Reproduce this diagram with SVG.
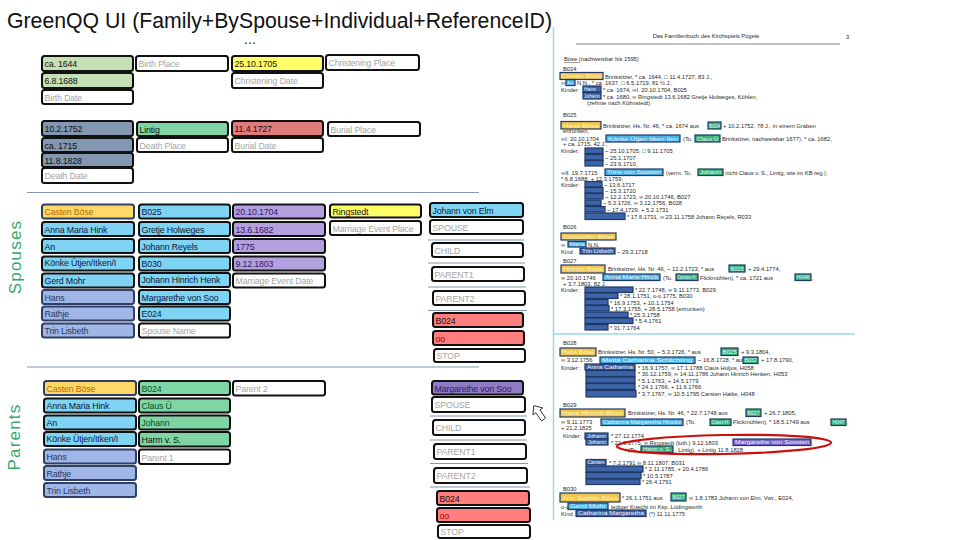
<svg xmlns="http://www.w3.org/2000/svg" width="960" height="540" viewBox="0 0 960 540">
<style>
.t{font-family:"Liberation Sans",Arial,sans-serif;font-size:8.8px;fill:#111;letter-spacing:-0.15px}
.ph{fill:#a6a6a6}
.bx{stroke:#111;stroke-width:2;rx:2.5px}
.bl{stroke:#2f3f6a;stroke-width:2;rx:2.5px}
.w{fill:#fff}.g1{fill:#c5e0b4}.y{fill:#ffff66}.dg{fill:#8497b0}.mg{fill:#7fd6a4}.rd{fill:#e07b7b}
.lb{fill:#7fd3f3}.or{fill:#ffd966}.lv{fill:#9fb6e6}.pu{fill:#b4a0dc}.pu2{fill:#8e7cc3}.sa{fill:#ff7f7f}
.tor{fill:#b5690a}.tnv{fill:#0d1a40}.tlv{fill:#1f3864}.tpu{fill:#33176e}.tgr{fill:#0b4f28}.tred{fill:#b00000}
.sep{stroke:#8496b0;stroke-width:1}
.lab{font-family:"Liberation Sans",Arial,sans-serif;font-size:17px;fill:#35a86a;letter-spacing:1.2px}
.d{font-family:"Liberation Sans",Arial,sans-serif;font-size:5.8px;fill:#2a2a2a}
.hl{stroke:#1f3864;stroke-width:1.2}
.hy{fill:#f0c850}.hb{fill:#49b3e3}.hd{fill:#3d64a8}.hg{fill:#36b57a}.hp{fill:#7b67c6}
.ht{font-family:"Liberation Sans",Arial,sans-serif;font-size:5px;fill:#e8f0ff}
.hty{font-family:"Liberation Sans",Arial,sans-serif;font-size:5px;fill:#fff1c0}
.cy{stroke:#9dd8df;stroke-width:1.5}
</style>

<text x="7" y="28" font-family="Liberation Sans, Arial, sans-serif" font-size="22" fill="#111" textLength="545" lengthAdjust="spacingAndGlyphs">GreenQQ UI (Family+BySpouse+Individual+ReferenceID)</text>
<text x="250" y="44" font-family="Liberation Sans, Arial, sans-serif" font-size="13" fill="#111" text-anchor="middle">…</text>

<!-- Top section: individual events -->
<g id="n-birth1"><rect class="bx g1" x="42" y="56" width="91" height="15"/><text class="t" x="44.5" y="67">ca. 1644</text></g>
<g id="n-birthplace"><rect class="bx w" x="136" y="56" width="92" height="15"/><text class="t ph" x="138.5" y="67">Birth Place</text></g>
<g id="n-christening"><rect class="bx y" x="232" y="56" width="91" height="15"/><text class="t" x="234.5" y="67">25.10.1705</text></g>
<g id="n-chrplace"><rect class="bx w" x="326" y="55" width="93" height="15"/><text class="t ph" x="328.5" y="66">Christening Place</text></g>
<g id="n-birth2"><rect class="bx g1" x="42" y="73" width="91" height="15"/><text class="t" x="44.5" y="84">6.8.1688</text></g>
<g id="n-chrdate"><rect class="bx w" x="232" y="73" width="91" height="15"/><text class="t ph" x="234.5" y="84">Christening Date</text></g>
<g id="n-birthdate"><rect class="bx w" x="42" y="90" width="91" height="14"/><text class="t ph" x="44.5" y="100.5">Birth Date</text></g>
<g id="n-death1"><rect class="bx dg" x="42" y="121" width="91" height="15"/><text class="t" x="44.5" y="132">10.2.1752</text></g>
<g id="n-lintig"><rect class="bx mg" x="137" y="122" width="91" height="14"/><text class="t" x="139.5" y="132.5">Lintig</text></g>
<g id="n-burial"><rect class="bx rd" x="232" y="121" width="91" height="15"/><text class="t" x="234.5" y="132">11.4.1727</text></g>
<g id="n-burplace"><rect class="bx w" x="328" y="122" width="92" height="14"/><text class="t ph" x="330.5" y="132.5">Burial Place</text></g>
<g id="n-death2"><rect class="bx dg" x="42" y="138" width="91" height="14"/><text class="t" x="44.5" y="148.5">ca. 1715</text></g>
<g id="n-deathplace"><rect class="bx w" x="137" y="138" width="91" height="14"/><text class="t ph" x="139.5" y="148.5">Death Place</text></g>
<g id="n-burdate"><rect class="bx w" x="232" y="138" width="91" height="14"/><text class="t ph" x="234.5" y="148.5">Burial Date</text></g>
<g id="n-death3"><rect class="bx dg" x="42" y="153" width="91" height="14"/><text class="t" x="44.5" y="163.5">11.8.1828</text></g>
<g id="n-deathdate"><rect class="bx w" x="42" y="168" width="91" height="15"/><text class="t ph" x="44.5" y="179">Death Date</text></g>

<line class="sep" x1="27" y1="192.5" x2="479" y2="192.5"/>
<text class="lab" transform="translate(21,257) rotate(-90)" text-anchor="middle">Spouses</text>

<!-- Spouses section -->
<g id="s-c1r1"><rect class="bl or" x="42" y="204.5" width="92" height="14"/><text class="t tor" x="44.5" y="215">Casten Böse</text></g>
<g id="s-c1r2"><rect class="bx lb" x="42" y="222" width="92" height="14"/><text class="t tnv" x="44.5" y="232.5">Anna Maria Hink</text></g>
<g id="s-c1r3"><rect class="bx lb" x="42" y="239" width="92" height="14"/><text class="t tnv" x="44.5" y="249.5">An</text></g>
<g id="s-c1r4"><rect class="bx lb" x="42" y="256.5" width="92" height="14"/><text class="t tnv" x="44.5" y="266">Könke Ütjen/Itken/I</text></g>
<g id="s-c1r5"><rect class="bx lb" x="42" y="273.5" width="92" height="14"/><text class="t tnv" x="44.5" y="284">Gerd Mohr</text></g>
<g id="s-c1r6"><rect class="bl lv" x="42" y="290" width="92" height="14"/><text class="t tlv" x="44.5" y="300.5">Hans</text></g>
<g id="s-c1r7"><rect class="bl lv" x="42" y="306.5" width="92" height="14"/><text class="t tlv" x="44.5" y="317">Rathje</text></g>
<g id="s-c1r8"><rect class="bl lv" x="42" y="323.5" width="92" height="14"/><text class="t tlv" x="44.5" y="334">Trin Lisbeth</text></g>

<g id="s-c2r1"><rect class="bx lb" x="139" y="204.5" width="91" height="14"/><text class="t tnv" x="141.5" y="215">B025</text></g>
<g id="s-c2r2"><rect class="bx lb" x="139" y="222" width="91" height="14"/><text class="t tnv" x="141.5" y="232.5">Gretje Holweges</text></g>
<g id="s-c2r3"><rect class="bx lb" x="139" y="239" width="91" height="14"/><text class="t tnv" x="141.5" y="249.5">Johann Reyels</text></g>
<g id="s-c2r4"><rect class="bx lb" x="139" y="256.5" width="91" height="14"/><text class="t tnv" x="141.5" y="267">B030</text></g>
<g id="s-c2r5"><rect class="bx lb" x="139" y="273" width="91" height="14"/><text class="t tnv" x="141.5" y="283">Johann Hinrich Henk</text></g>
<g id="s-c2r6"><rect class="bx lb" x="139" y="290" width="91" height="14"/><text class="t tnv" x="141.5" y="300.5">Margarethe von Soo</text></g>
<g id="s-c2r7"><rect class="bx lb" x="139" y="306.5" width="91" height="14"/><text class="t tnv" x="141.5" y="317">E024</text></g>
<g id="s-c2r8"><rect class="bx w" x="139" y="323.5" width="91" height="14"/><text class="t ph" x="141.5" y="334">Spouse Name</text></g>

<g id="s-c3r1"><rect class="bx pu" x="233" y="204.5" width="92" height="14"/><text class="t tpu" x="235.5" y="215">20.10.1704</text></g>
<g id="s-c3r2"><rect class="bx pu" x="233" y="222" width="92" height="14"/><text class="t tpu" x="235.5" y="232.5">13.6.1682</text></g>
<g id="s-c3r3"><rect class="bx pu" x="233" y="239" width="92" height="14"/><text class="t tpu" x="235.5" y="249.5">1775</text></g>
<g id="s-c3r4"><rect class="bx pu" x="233" y="256.5" width="92" height="14"/><text class="t tpu" x="235.5" y="267">9.12.1803</text></g>
<g id="s-c3r5"><rect class="bx w" x="233" y="273.5" width="92" height="14"/><text class="t ph" x="235.5" y="284">Marriage Event Date</text></g>

<g id="s-c4r1"><rect class="bx y" x="330" y="204.5" width="91" height="13"/><text class="t" x="332.5" y="214.5">Ringstedt</text></g>
<g id="s-c4r2"><rect class="bx w" x="330" y="221" width="91" height="14"/><text class="t ph" x="332.5" y="231.5">Marriage Event Place</text></g>

<g id="s-c5r1"><rect class="bx lb" x="430" y="203" width="93" height="14"/><text class="t tnv" x="432.5" y="213.5">Johann von Elm</text></g>
<g id="s-spouse"><rect class="bx w" x="430" y="220" width="93" height="14"/><text class="t ph" x="432.5" y="230.5">SPOUSE</text></g>
<g id="s-child"><rect class="bx w" x="432" y="243" width="91" height="14"/><text class="t ph" x="434.5" y="253.5">CHILD</text></g>
<g id="s-parent1"><rect class="bx w" x="432" y="267" width="92" height="14"/><text class="t ph" x="434.5" y="277.5">PARENT1</text></g>
<g id="s-parent2"><rect class="bx w" x="433" y="291" width="92" height="14"/><text class="t ph" x="435.5" y="301.5">PARENT2</text></g>
<g id="s-ref"><rect class="bx sa" x="433" y="313" width="90" height="14"/><text class="t" x="435.5" y="323.5">B024</text></g>
<g id="s-oo"><rect class="bx sa" x="433" y="331" width="91" height="14"/><text class="t tred" x="435.5" y="341.5">oo</text></g>
<g id="s-stop"><rect class="bx w" x="434" y="349" width="91" height="13"/><text class="t ph" x="436.5" y="359">STOP</text></g>

<line class="sep" x1="27" y1="367" x2="479" y2="367"/>
<text class="lab" transform="translate(20,437) rotate(-90)" text-anchor="middle">Parents</text>

<!-- Parents section -->
<g id="p-c1r1"><rect class="bl or" x="44" y="381" width="92" height="14"/><text class="t tor" x="46.5" y="391.5">Casten Böse</text></g>
<g id="p-c1r2"><rect class="bx lb" x="44" y="398.5" width="92" height="14"/><text class="t tnv" x="46.5" y="409">Anna Maria Hink</text></g>
<g id="p-c1r3"><rect class="bx lb" x="44" y="415.5" width="92" height="14"/><text class="t tnv" x="46.5" y="426">An</text></g>
<g id="p-c1r4"><rect class="bx lb" x="44" y="432" width="92" height="14"/><text class="t tnv" x="46.5" y="442">Könke Ütjen/Itken/I</text></g>
<g id="p-c1r5"><rect class="bl lv" x="44" y="449.5" width="92" height="14"/><text class="t tlv" x="46.5" y="460">Hans</text></g>
<g id="p-c1r6"><rect class="bl lv" x="44" y="466" width="92" height="14"/><text class="t tlv" x="46.5" y="476.5">Rathje</text></g>
<g id="p-c1r7"><rect class="bl lv" x="44" y="483" width="92" height="14"/><text class="t tlv" x="46.5" y="493.5">Trin Lisbeth</text></g>

<g id="p-c2r1"><rect class="bx mg" x="139" y="381" width="91" height="14"/><text class="t tgr" x="141.5" y="391.5">B024</text></g>
<g id="p-c2r2"><rect class="bx mg" x="139" y="398.5" width="91" height="14"/><text class="t tgr" x="141.5" y="409">Claus Ü</text></g>
<g id="p-c2r3"><rect class="bx mg" x="139" y="415.5" width="91" height="14"/><text class="t tgr" x="141.5" y="426">Johann</text></g>
<g id="p-c2r4"><rect class="bx mg" x="139" y="432" width="91" height="14.5"/><text class="t" x="141.5" y="443">Harm v. S.</text></g>
<g id="p-c2r5"><rect class="bx w" x="139" y="449.5" width="91" height="14.5"/><text class="t ph" x="141.5" y="460.5">Parent 1</text></g>
<g id="p-c3r1"><rect class="bx w" x="233" y="381" width="92" height="14.5"/><text class="t ph" x="235.5" y="392">Parent 2</text></g>

<g id="p-c5r1"><rect class="bx pu2" x="432" y="381" width="91" height="13.5"/><text class="t tpu" x="434.5" y="391.5">Margarethe von Soo</text></g>
<g id="p-spouse"><rect class="bx w" x="432" y="397" width="93" height="15"/><text class="t ph" x="434.5" y="408">SPOUSE</text></g>
<g id="p-child"><rect class="bx w" x="433" y="420" width="92" height="15"/><text class="t ph" x="435.5" y="431">CHILD</text></g>
<g id="p-parent1"><rect class="bx w" x="434" y="444" width="92" height="15"/><text class="t ph" x="436.5" y="455">PARENT1</text></g>
<g id="p-parent2"><rect class="bx w" x="434" y="468" width="93" height="15"/><text class="t ph" x="436.5" y="479">PARENT2</text></g>
<g id="p-ref"><rect class="bx sa" x="437" y="491" width="92" height="14"/><text class="t" x="439.5" y="501.5">B024</text></g>
<g id="p-oo"><rect class="bx sa" x="437" y="508" width="93" height="14"/><text class="t tred" x="439.5" y="518.5">oo</text></g>
<g id="p-stop"><rect class="bx w" x="438" y="525" width="92" height="13"/><text class="t ph" x="440.5" y="535">STOP</text></g>

<!-- separators (connectors group) -->
<g id="connectors">
<line class="sep" x1="428" y1="240" x2="524" y2="240"/>
<line class="sep" x1="428" y1="263" x2="525" y2="263"/>
<line class="sep" x1="428" y1="287" x2="526" y2="287"/>
<line class="sep" x1="428" y1="310.5" x2="527" y2="310.5"/>
<line class="sep" x1="430" y1="416" x2="527" y2="416"/>
<line class="sep" x1="430" y1="440" x2="527" y2="440"/>
<line class="sep" x1="430" y1="463.5" x2="528" y2="463.5"/>
<line class="sep" x1="430" y1="487" x2="530" y2="487"/>
</g>

<!-- cursor -->
<g id="cursor" transform="translate(539,413) rotate(-35)">
<polygon points="0,-9 6,-2 2.5,-2 2.5,8 -2.5,8 -2.5,-2 -6,-2" fill="#fff" stroke="#333" stroke-width="0.9"/>
</g>

<!-- scanned document -->
<g id="scan">
<rect x="554" y="27" width="302" height="494" fill="#fff"/>
<line class="cy" x1="553.5" y1="27" x2="553.5" y2="520"/>
<line class="cy" x1="553" y1="334" x2="855" y2="334"/>
<text class="d" x="706" y="38" text-anchor="middle" font-size="4.8" fill="#555">Das Familienbuch des Kirchspiels Pögele</text>
<text class="d" x="846" y="39">3</text>
<line x1="576" y1="44" x2="840" y2="44" stroke="#666" stroke-width="0.8"/>
<text class="d" x="564" y="61" font-size="7">Böse  (nachweisbar bis 1595)</text>
<line x1="564" y1="62.5" x2="580" y2="62.5" stroke="#444" stroke-width="0.5"/>

<text class="d" x="563" y="71">B024</text>
<rect class="hl hy" x="560" y="72.5" width="43" height="7"/><text class="hty" x="561" y="78.2" textLength="41" lengthAdjust="spacingAndGlyphs">Casten Böse</text>
<text class="d" x="605" y="78.5">Brinksitzer, * ca. 1644, □ 11.4.1727, 83 J.,</text>
<text class="d" x="561" y="85">∞</text>
<rect class="hl hb" x="566" y="79.5" width="9" height="6"/><text class="ht" x="567" y="84.5">An</text>
<text class="d" x="577" y="85">N.N., * ca. 1637, □ 6.5.1719, 81 ½ J.,</text>
<text class="d" x="561" y="91.5">Kinder:</text>
<rect class="hl hd" x="583" y="86" width="18" height="6"/><text class="ht" x="584" y="91">Hans</text>
<text class="d" x="603" y="91.5">* ca. 1674, ∞I. 20.10.1704, B025</text>
<rect class="hl hd" x="583" y="92.5" width="18" height="6.5"/><text class="ht" x="584" y="97.8" textLength="16" lengthAdjust="spacingAndGlyphs">Johann</text>
<text class="d" x="603" y="98.5">* ca. 1680, ∞ Ringstedt 13.6.1682 Gretje Holweges, Köhlen,</text>
<text class="d" x="587" y="104.5">(zehnte nach Kühnstedt)</text>

<text class="d" x="563" y="117">B025</text>
<rect class="hl hy" x="561" y="121.5" width="40" height="7.5"/><text class="hty" x="563" y="127.5" textLength="36" lengthAdjust="spacingAndGlyphs">Hans Böse</text>
<text class="d" x="603" y="127.5">Brinksitzer, Hs. Nr. 46, * ca. 1674 aus</text>
<rect class="hl hg" x="708" y="122" width="13" height="7"/><text class="ht" x="709" y="127.5" textLength="11" lengthAdjust="spacingAndGlyphs">B024</text>
<text class="d" x="723" y="127.5">+ 10.2.1752, 78 J., in einem Graben</text>
<text class="d" x="563" y="133">ertrunken,</text>
<text class="d" x="561" y="140.5">∞I. 20.10.1704</text>
<rect class="hl hb" x="606" y="135" width="74" height="7"/><text class="ht" x="608" y="140.5" textLength="70" lengthAdjust="spacingAndGlyphs">Könke Ütjen  Itken  Ilen</text>
<text class="d" x="683" y="140.5">(To.</text>
<rect class="hl hg" x="695" y="135" width="25" height="7"/><text class="ht" x="697" y="140.5" textLength="21" lengthAdjust="spacingAndGlyphs">Claus Ü</text>
<text class="d" x="722" y="140.5">Brinksitzer, nachweisbar 1677), * ca. 1682,</text>
<text class="d" x="563" y="146">+ ca. 1715, 42 J.,</text>
<text class="d" x="561" y="153">Kinder:</text>
<rect class="hl hd" x="585" y="148" width="18" height="5.5"/>
<rect class="hl hd" x="585" y="154.5" width="18" height="5.5"/>
<rect class="hl hd" x="585" y="160.5" width="18" height="5.5"/>
<text class="d" x="605" y="153">~ 25.10.1705, □ 9.11.1705</text>
<text class="d" x="605" y="159.5">~ 25.1.1707</text>
<text class="d" x="605" y="165.5">~ 23.9.1710,</text>
<text class="d" x="561" y="174.5">∞II. 19.7.1715</text>
<rect class="hl hb" x="605" y="169" width="58" height="6.5"/><text class="ht" x="607" y="174.3" textLength="54" lengthAdjust="spacingAndGlyphs">Trine von Soosten</text>
<text class="d" x="666" y="174.5">(verm. To.</text>
<rect class="hl hg" x="698" y="169" width="25" height="6.5"/><text class="ht" x="700" y="174.3" textLength="21" lengthAdjust="spacingAndGlyphs">Johann</text>
<text class="d" x="725" y="174.5">nicht Claus  v. S., Lintig, wie im KB reg.),</text>
<text class="d" x="561" y="180.5">* 6.8.1688, + 12.3.1759,</text>
<text class="d" x="561" y="186.5">Kinder:</text>
<rect class="hl hd" x="585" y="181.5" width="17" height="5.5"/>
<rect class="hl hd" x="585" y="187.5" width="18" height="5.5"/>
<rect class="hl hd" x="585" y="193.5" width="18" height="5.5"/>
<rect class="hl hd" x="585" y="200" width="16" height="5.5"/>
<rect class="hl hd" x="585" y="206.5" width="20" height="5.5"/>
<rect class="hl hd" x="585" y="213" width="40" height="6.5"/>
<text class="d" x="604" y="186.5">~ 13.6.1717</text>
<text class="d" x="605" y="192.5">~ 15.3.1720</text>
<text class="d" x="605" y="198.5">~ 12.2.1723, ∞ 20.10.1746, B027</text>
<text class="d" x="603" y="205">~ 5.3.1726, ∞ 3.12.1756, B028</text>
<text class="d" x="607" y="211.5">~ 17.4.1729, + 5.2.1731</text>
<text class="d" x="627" y="219">* 17.6.1731, ∞ 23.11.1758 Johann Reyels, R033</text>

<text class="d" x="563" y="229">B026</text>
<rect class="hl hy" x="561" y="233" width="55" height="7"/><text class="hty" x="563" y="238.5" textLength="51" lengthAdjust="spacingAndGlyphs">Christoffer Böse</text>
<text class="d" x="561" y="247">∞</text>
<rect class="hl hb" x="568" y="241.5" width="18" height="5.5"/><text class="ht" x="569.5" y="246.3" textLength="15" lengthAdjust="spacingAndGlyphs">Maria</text>
<text class="d" x="588" y="247">N.N.</text>
<text class="d" x="561" y="253.5">Kind</text>
<rect class="hl hd" x="580" y="248" width="35" height="6"/><text class="ht" x="582" y="253" textLength="31" lengthAdjust="spacingAndGlyphs">Trin Lisbeth</text>
<text class="d" x="617" y="253.5">~ 29.3.1718</text>

<text class="d" x="563" y="263">B027</text>
<rect class="hl hy" x="561" y="265" width="44" height="8"/><text class="hty" x="563" y="271" textLength="40" lengthAdjust="spacingAndGlyphs">Hinrich Böse</text>
<text class="d" x="608" y="271">Brinksitzer, Hs. Nr. 46, ~ 12.2.1723, * aus</text>
<rect class="hl hg" x="729" y="265" width="16" height="7"/><text class="ht" x="730.5" y="270.5" textLength="13" lengthAdjust="spacingAndGlyphs">B025</text>
<text class="d" x="748" y="271">+ 29.4.1774,</text>
<text class="d" x="561" y="279.5">∞ 20.10.1746</text>
<rect class="hl hb" x="603" y="274" width="57" height="6.5"/><text class="ht" x="605" y="279.3" textLength="53" lengthAdjust="spacingAndGlyphs">Anna Maria Hinck</text>
<text class="d" x="663" y="279.5">(To.</text>
<rect class="hl hg" x="676" y="274" width="22" height="6.5"/><text class="ht" x="677.5" y="279.3" textLength="19" lengthAdjust="spacingAndGlyphs">Carsten H.</text>
<text class="d" x="700" y="279.5">Flickmühlen), * ca. 1721 aus</text>
<rect class="hl hg" x="795" y="274" width="16" height="6.5"/><text class="ht" x="796.5" y="279.3" textLength="13" lengthAdjust="spacingAndGlyphs">H046</text>
<text class="d" x="812" y="279.5">,</text>
<text class="d" x="563" y="285.5">+ 3.7.1803, 82 J.</text>
<text class="d" x="561" y="292">Kinder:</text>
<rect class="hl hd" x="585" y="287" width="48" height="5.5"/>
<rect class="hl hd" x="585" y="293" width="33" height="5.5"/>
<rect class="hl hd" x="585" y="299.5" width="23" height="5.5"/>
<rect class="hl hd" x="585" y="305.5" width="24" height="5.5"/>
<rect class="hl hd" x="585" y="312" width="43" height="5.5"/>
<rect class="hl hd" x="585" y="318" width="48" height="5.5"/>
<rect class="hl hd" x="585" y="324.5" width="23" height="5.5"/>
<text class="d" x="635" y="292">* 22.7.1748, ∞ 9.11.1773, B029</text>
<text class="d" x="620" y="298">* 28.1.1751, o-o 1775, B030</text>
<text class="d" x="610" y="304.5">* 16.9.1753, + 10.1.1754</text>
<text class="d" x="611" y="310.5">* 17.3.1755, + 28.5.1758 (ertrunken)</text>
<text class="d" x="630" y="317">* 25.3.1758</text>
<text class="d" x="635" y="323">* 5.4.1761</text>
<text class="d" x="610" y="329.5">* 31.7.1764</text>

<text class="d" x="563" y="345">B028</text>
<rect class="hl hy" x="560" y="348" width="36" height="8"/><text class="hty" x="562" y="354" textLength="32" lengthAdjust="spacingAndGlyphs">Hans Böse</text>
<text class="d" x="598" y="354">Brinksitzer, Hs. Nr. 50, ~ 5.3.1726, * aus</text>
<rect class="hl hg" x="721" y="348" width="17" height="7.5"/><text class="ht" x="722.5" y="353.8" textLength="14" lengthAdjust="spacingAndGlyphs">B025</text>
<text class="d" x="741" y="354">+ 9.3.1804,</text>
<text class="d" x="561" y="362">∞ 3.12.1756</text>
<rect class="hl hb" x="600" y="357" width="95" height="6.5"/><text class="ht" x="602" y="362.3" textLength="90" lengthAdjust="spacingAndGlyphs">Metta Catharina Schlichting</text>
<text class="d" x="698" y="362">~ 16.8.1728, * aus</text>
<rect class="hl hg" x="743" y="357" width="15" height="6.5"/><text class="ht" x="744.5" y="362.3" textLength="12" lengthAdjust="spacingAndGlyphs">B032</text>
<text class="d" x="761" y="362">+ 17.8.1790,</text>
<text class="d" x="561" y="369.5">Kinder:</text>
<rect class="hl hd" x="585" y="364" width="50" height="6"/><text class="ht" x="587" y="369" textLength="46" lengthAdjust="spacingAndGlyphs">Anna Catharina</text>
<rect class="hl hd" x="586" y="370.5" width="49" height="6"/>
<rect class="hl hd" x="586" y="377" width="49" height="6"/>
<rect class="hl hd" x="586" y="383.5" width="49" height="6"/>
<rect class="hl hd" x="586" y="390.5" width="50" height="6.5"/>
<text class="d" x="638" y="369.5">* 16.9.1757, ∞ 17.1.1788 Claus Huljus, H058</text>
<text class="d" x="638" y="376">* 30.12.1759, ∞ 14.11.1786 Johann Hinrich Henken, H053</text>
<text class="d" x="638" y="382.5">* 5.1.1763, + 14.5.1779</text>
<text class="d" x="638" y="389">* 24.1.1766, + 11.6.1766</text>
<text class="d" x="638" y="396">* 3.7.1767, ∞ 10.5.1795 Carsten Haike, H048</text>

<text class="d" x="563" y="407">B029</text>
<rect class="hl hy" x="560" y="409" width="65" height="8"/><text class="hty" x="562" y="415" textLength="61" lengthAdjust="spacingAndGlyphs">Hans Hinrich Böse</text>
<text class="d" x="628" y="415">Brinksitzer, Hs. Nr. 46, * 22.7.1748 aus</text>
<rect class="hl hg" x="746" y="409" width="15" height="7.5"/><text class="ht" x="747.5" y="414.8" textLength="12" lengthAdjust="spacingAndGlyphs">B027</text>
<text class="d" x="764" y="415">+ 26.7.1805,</text>
<text class="d" x="561" y="424">∞ 9.11.1773</text>
<rect class="hl hb" x="601" y="419" width="82" height="6.5"/><text class="ht" x="603" y="424.3" textLength="78" lengthAdjust="spacingAndGlyphs">Catharina Margaretha Hincke</text>
<text class="d" x="686" y="424">(To.</text>
<rect class="hl hg" x="710" y="419" width="21" height="6.5"/><text class="ht" x="711.5" y="424.3" textLength="18" lengthAdjust="spacingAndGlyphs">Claus H.</text>
<text class="d" x="733" y="424">Flickmühlen), * 18.5.1749 aus</text>
<rect class="hl hg" x="831" y="419" width="15" height="6.5"/><text class="ht" x="832.5" y="424.3" textLength="12" lengthAdjust="spacingAndGlyphs">H047</text>
<text class="d" x="847" y="424">,</text>
<text class="d" x="561" y="430">+ 21.2.1825</text>
<text class="d" x="563" y="438">Kinder:</text>
<rect class="hl hd" x="585" y="433" width="23" height="6"/><text class="ht" x="587" y="438" textLength="19" lengthAdjust="spacingAndGlyphs">Johann</text>
<text class="d" x="611" y="438">* 27.12.1774</text>
<rect class="hl hd" x="586" y="439" width="22" height="6"/><text class="ht" x="588" y="444" textLength="18" lengthAdjust="spacingAndGlyphs">Johann</text>
<text class="d" x="611" y="444.5">* 21.9.1775, ∞ Ringstedt (luth.) 9.12.1803</text>
<rect class="hl hp" x="733" y="439" width="78" height="6.5"/><text class="ht" x="735" y="444.3" textLength="74" lengthAdjust="spacingAndGlyphs">Margarethe von Soosten</text>
<text class="d" x="812" y="444.5">,</text>
<text class="d" x="628" y="451.5">(To.</text>
<rect class="hl hg" x="641" y="446" width="32" height="6.5"/><text class="ht" x="643" y="451.3" textLength="28" lengthAdjust="spacingAndGlyphs">Harm v. S.</text>
<text class="d" x="675" y="451.5">, Lintig), + Lintig 11.8.1828</text>
<ellipse cx="724" cy="444.5" rx="107" ry="9.5" fill="none" stroke="#cc1010" stroke-width="2.2" transform="rotate(-1 724 444.5)"/>
<rect class="hl hd" x="586" y="459.5" width="20" height="5.5"/><text class="ht" x="587.5" y="464.3" textLength="17" lengthAdjust="spacingAndGlyphs">Carsten</text>
<text class="d" x="609" y="464.5">* 7.2.1791 ∞ 8.11.1807, B031</text>
<rect class="hl hd" x="586" y="466" width="57" height="6"/>
<text class="d" x="645" y="471">* 2.11.1785, + 20.4.1786</text>
<rect class="hl hd" x="586" y="472.5" width="55" height="6"/>
<text class="d" x="643" y="477.5">* 10.5.1787</text>
<rect class="hl hd" x="586" y="479" width="54" height="5.5"/>
<text class="d" x="642" y="484">* 26.4.1791</text>

<text class="d" x="563" y="491">B030</text>
<rect class="hl hy" x="560" y="493" width="60" height="9"/><text class="hty" x="562" y="500" textLength="56" lengthAdjust="spacingAndGlyphs">Ann Sophie Böse</text>
<text class="d" x="622" y="500">* 26.1.1751 aus</text>
<rect class="hl hg" x="671" y="493" width="15" height="8"/><text class="ht" x="672.5" y="499.3" textLength="12" lengthAdjust="spacingAndGlyphs">B027</text>
<text class="d" x="689" y="500">∞ 1.8.1783 Johann von Elm, Vwr., E024,</text>
<text class="d" x="561" y="508.5">o-o</text>
<rect class="hl hb" x="568" y="503" width="40" height="6.5"/><text class="ht" x="570" y="508.3" textLength="36" lengthAdjust="spacingAndGlyphs">Gerd Mohr</text>
<text class="d" x="611" y="508.5">lediger Knecht im Ksp. Lüdingworth</text>
<text class="d" x="561" y="515.5">Kind</text>
<rect class="hl hd" x="576" y="510" width="70" height="6.5"/><text class="ht" x="578" y="515.3" textLength="66" lengthAdjust="spacingAndGlyphs">Catharina Margaretha</text>
<text class="d" x="649" y="515.5">(*) 11.11.1775</text>
</g>
</svg>
